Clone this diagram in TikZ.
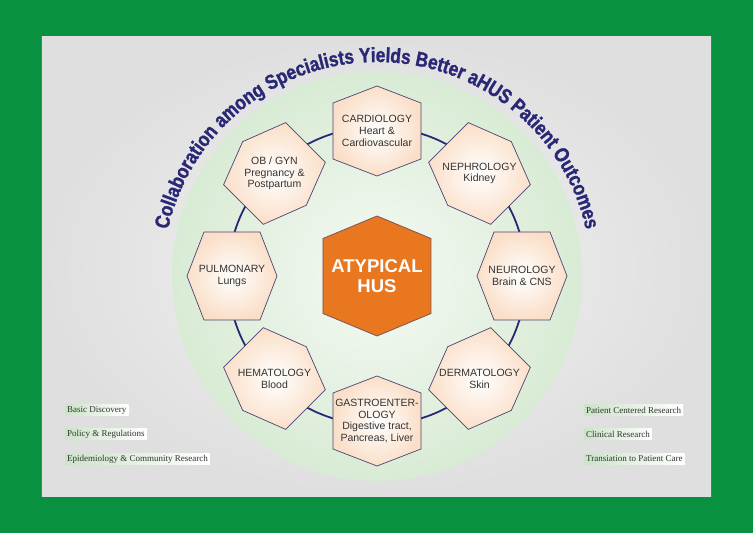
\documentclass[tikz,border=0pt]{standalone}
\usepackage{fontspec}
\setmainfont{Liberation Sans}
\newfontfamily\tagserif{Liberation Serif}
\newfontfamily\arcfont[FakeStretch=0.84, FakeBold=1.3]{Liberation Sans}
\usepackage{tikz}
\usetikzlibrary{decorations.text, shadings}
\definecolor{frame}{HTML}{08913F}
\definecolor{panel}{HTML}{DEDFDE}
\definecolor{panelhi}{HTML}{F3F3F3}
\definecolor{halo}{HTML}{D8EBD4}
\definecolor{haloin}{HTML}{F6FAF5}
\definecolor{navy}{HTML}{2A2876}
\definecolor{peach}{HTML}{FADFC8}
\definecolor{hexline}{HTML}{4E4275}
\definecolor{orange}{HTML}{E8771F}
\definecolor{ink}{HTML}{333333}
\definecolor{tag}{HTML}{CBE4C7}
\tikzset{
  ring/.style={draw=navy, line width=1.8pt},
  hexa/.style={draw=hexline, line width=0.7pt, inner color=white, outer color=peach},
  core/.style={draw=hexline!70!orange, line width=0.8pt, fill=orange},
  spec/.style={align=center, text=ink, font=\fontsize{10.5}{11.8}\selectfont, inner sep=0pt},
  corelabel/.style={align=center, text=white, font=\bfseries\fontsize{18.5}{20.5}\selectfont},
  tagbox/.style={anchor=west, left color=tag, right color=white, text=ink, font=\tagserif\fontsize{9}{10}\selectfont, inner xsep=2pt, inner ysep=0pt, minimum height=11pt},
}

\begin{document}
\begin{tikzpicture}[x=1pt, y=1pt]
  \useasboundingbox (-377,-257) rectangle (376,276);
  \fill[frame] (-377,-257) rectangle (376,276);
  \shade[inner color=panelhi, outer color=panel] (-335,-220) rectangle (334,239);
  \shade[inner color=haloin, outer color=halo] (0,0) circle[radius=205pt];
  % title on the arc
  \path[decorate, decoration={text along path, text align=center,
    text={|\color{navy}\arcfont\bfseries\fontsize{20.5}{22}\selectfont|Collaboration among Specialists Yields Better aHUS Patient Outcomes}}]
    (176:214) arc[start angle=176, end angle=4, radius=214pt];
  \draw[ring] (0,0) circle[radius=149pt];
  % specialist hexagons
  \foreach \ang/\nm/\txt in {90/cardio/{CARDIOLOGY\\Heart \&\\Cardiovascular},
      45/nephro/{NEPHROLOGY\\Kidney},
      0/neuro/{NEUROLOGY\\Brain \& CNS},
      315/derma/{DERMATOLOGY\\Skin},
      270/gastro/{GASTROENTER-\\OLOGY\\Digestive tract,\\Pancreas, Liver},
      225/hema/{HEMATOLOGY\\Blood},
      180/pulmo/{PULMONARY\\Lungs},
      135/obgyn/{OB / GYN\\Pregnancy \&\\Postpartum}}{
    \shade[hexa, shift={(\ang:145)}, rotate=\ang] (45,0) -- (28,44) -- (-28,44) -- (-45,0) -- (-28,-44) -- (28,-44) -- cycle;
    \node[spec] (\nm) at (\ang:145) {\txt};
  }
  \filldraw[core] (0,60) -- (54,37.5) -- (54,-37.5) -- (0,-60) -- (-54,-37.5) -- (-54,37.5) -- cycle;
  \node[corelabel] (ahus) at (0,0) {ATYPICAL\\HUS};
  % research tags
  \node[tagbox] (basic) at (-312,-134) {Basic Discovery};
  \node[tagbox] (policy) at (-312,-158) {Policy \& Regulations};
  \node[tagbox] (epidem) at (-312,-183) {Epidemiology \& Community Research};
  \node[tagbox] (patient) at (207,-134) {Patient Centered Research};
  \node[tagbox] (clinical) at (207,-158) {Clinical Research};
  \node[tagbox] (transl) at (207,-183) {Transiation to Patient Care};
\end{tikzpicture}
\end{document}
